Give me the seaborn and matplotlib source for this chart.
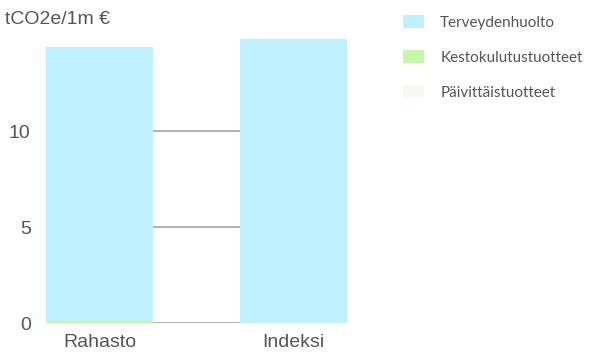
import pandas as pd
import matplotlib.pyplot as plt
import seaborn as sns
from matplotlib.patches import Patch

sns.set_theme(style="white")
plt.rcParams["font.family"] = ["Liberation Sans", "DejaVu Sans"]

# data (tCO2e / 1m €)
categories = ["Rahasto", "Indeksi"]
paivittais = [0.01, 0.0]
kestokulutus = [0.1, 0.0]
terveys = [14.27, 14.8]

series_names = ["Terveydenhuolto", "Kestokulutustuotteet", "Päivittäistuotteet"]
colors = {"Terveydenhuolto": "#bff0fe",
          "Kestokulutustuotteet": "#c6f6a9",
          "Päivittäistuotteet": "#f8f8ee"}

df = pd.DataFrame({"Kategoria": categories,
                   "Päivittäistuotteet": paivittais,
                   "Kestokulutustuotteet": kestokulutus,
                   "Terveydenhuolto": terveys})
# cumulative sums for stacking (bottom to top: Päivittäis, Kesto, Terveys)
df["c1"] = df["Päivittäistuotteet"]
df["c2"] = df["c1"] + df["Kestokulutustuotteet"]
df["c3"] = df["c2"] + df["Terveydenhuolto"]

fig = plt.figure(figsize=(5.97, 3.6), dpi=100)
ax = fig.add_axes([46 / 597, 37 / 360, 301 / 597, 288 / 360])

for col in [0, 5, 10]:
    ax.axhline(col, color="#aaaaaa", lw=1.3, zorder=0)

width = 0.555
bar_kw = dict(width=width, saturation=1, linewidth=0, ax=ax)
sns.barplot(data=df, x="Kategoria", y="c3", color=colors["Terveydenhuolto"],
            zorder=2, **bar_kw)
sns.barplot(data=df, x="Kategoria", y="c2", color=colors["Kestokulutustuotteet"],
            zorder=3, **bar_kw)
sns.barplot(data=df, x="Kategoria", y="c1", color=colors["Päivittäistuotteet"],
            zorder=4, **bar_kw)

ax.set_xlim(-0.2775, 1.2775)
ax.set_ylim(0, 15)
ax.set_yticks([0, 5, 10])
ax.set_xlabel("")
ax.set_ylabel("")
ax.tick_params(axis="both", labelsize=14, colors="#555555", length=0)
ax.tick_params(axis="y", pad=11)
ax.tick_params(axis="x", pad=8)
for s in ax.spines.values():
    s.set_visible(False)

fig.text(5 / 597, 1 - 20 / 360, "tCO2e/1m €", fontsize=14, color="#555555",
         va="center", ha="left")

handles = [Patch(facecolor=colors[n], edgecolor="none") for n in series_names]
fig.legend(handles, series_names, loc="upper left",
           bbox_to_anchor=(389 / 597, 1 - 1 / 360), frameon=False,
           prop={"family": "Lato", "size": 11}, labelcolor="#555555",
           handlelength=1.4, handleheight=1.0, labelspacing=1.3,
           handletextpad=1.05)

fig.savefig("out.png", dpi=100)
